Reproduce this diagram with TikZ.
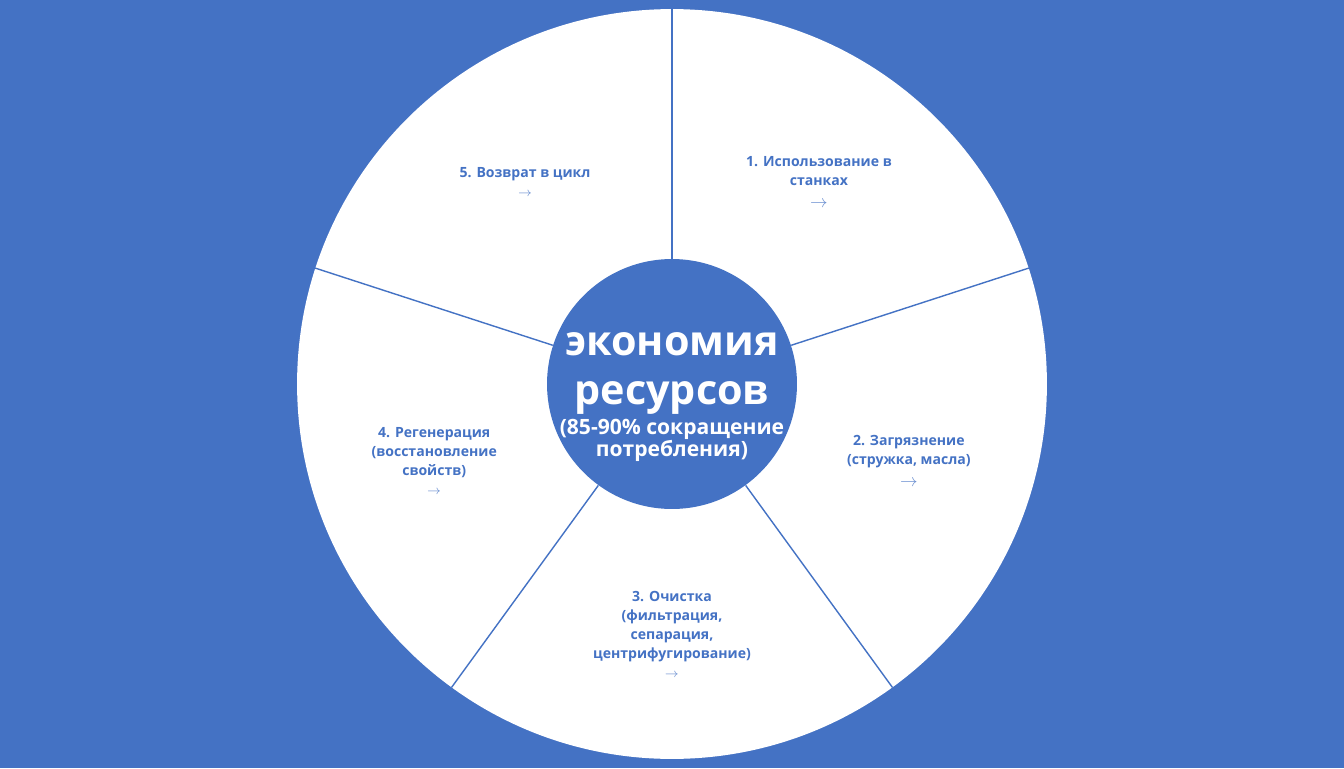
\documentclass[tikz,border=0pt]{standalone}
\usepackage{fontspec}
\setmainfont{Open Sans}
\definecolor{slideblue}{HTML}{4472C4}
\tikzset{
  stage/.style={text=slideblue, font=\bfseries\fontsize{8}{10.8}\selectfont, align=center, inner sep=0pt},
  divider/.style={draw=slideblue, line width=0.8pt},
}
\newcommand{\nextarrow}[1]{{\fontsize{#1}{10.8}\selectfont\color{slideblue!80}$\rightarrow$}}
\newcommand{\bigtitle}{\fontsize{23.5}{25.5}\selectfont}
\newcommand{\subtitle}{\fontsize{12}{13.7}\selectfont}
\newcommand{\tightlines}{\lineskiplimit-100pt\lineskip0pt\relax}

\begin{document}
\begin{tikzpicture}[x=0.02cm, y=0.02cm]
\fill[slideblue] (-672,-384) rectangle (672,384);
\useasboundingbox (-672,-384) rectangle (672,384);
\node[circle, fill=white, minimum size=15cm, inner sep=0pt] (wheel) at (0,0) {};
\node[circle, fill=slideblue, minimum size=5cm, inner sep=0pt] (hub) at (0,0) {};
\node[text=white, align=center, inner sep=0pt, anchor=north,
      font=\bfseries\fontsize{12}{12.5}\selectfont\tightlines] (title) at (0,52)
  {\bigtitle экономия\\[15.4pt]\bigtitle ресурсов\\[4.5pt]
   \subtitle (85-90\% сокращение\\\subtitle потребления)};
\draw[divider] (hub.90) -- (wheel.90);
\draw[divider] (hub.18) -- (wheel.18);
\draw[divider] (hub.-54) -- (wheel.-54);
\draw[divider] (hub.-126) -- (wheel.-126);
\draw[divider] (hub.162) -- (wheel.162);
\node[stage] (S1) at (54:250) {1. Использование в\\станках\\[1.5pt]\nextarrow{10}};
\node[stage] (S2) at (-18:249) {2. Загрязнение\\(стружка, масла)\\[1.5pt]\nextarrow{10}};
\node[stage] (S3) at (-90:250) {3. Очистка\\(фильтрация,\\сепарация,\\центрифугирование)\\\nextarrow{7}};
\node[stage] (S4) at (198:250) {4. Регенерация\\(восстановление\\свойств)\\\nextarrow{7}};
\node[stage] (S5) at (126:250) {5. Возврат в цикл\\\nextarrow{7}};
\end{tikzpicture}
\end{document}
